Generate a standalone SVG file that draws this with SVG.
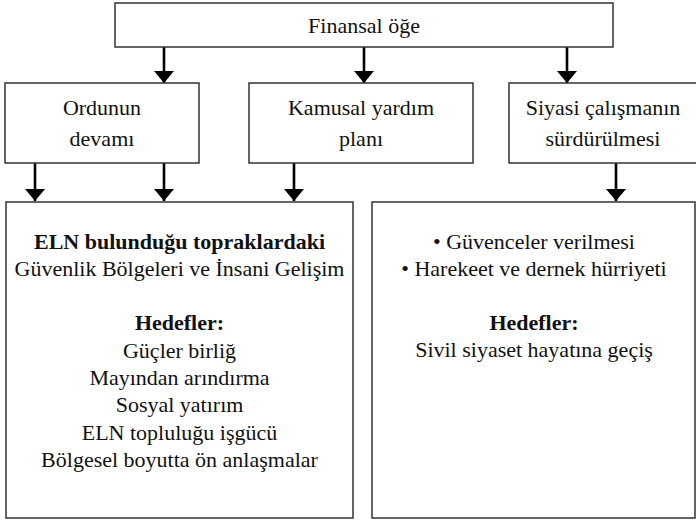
<svg xmlns="http://www.w3.org/2000/svg" width="696" height="520" viewBox="0 0 696 520">
<style>
.box{fill:#fff;stroke:#333;stroke-width:1.5}
.t{font-family:'Liberation Serif','Times New Roman','DejaVu Serif',serif;font-size:22px;fill:#111;text-anchor:middle}
.b{font-weight:bold}
.c{stroke:#000;stroke-width:2.6;fill:none}
</style>
<defs>
<marker id="ah" markerUnits="userSpaceOnUse" markerWidth="13" markerHeight="22" viewBox="0 0 13 22" refX="12" refY="11" orient="auto">
<path d="M0,1 L12,11 L0,21 z" fill="#000"/>
</marker>
</defs>
<rect width="696" height="520" fill="#fff"/>
<g id="connectors">
<line class="c" x1="164" y1="47" x2="164" y2="83" marker-end="url(#ah)"/>
<line class="c" x1="364" y1="47" x2="364" y2="83" marker-end="url(#ah)"/>
<line class="c" x1="567" y1="47" x2="567" y2="83" marker-end="url(#ah)"/>
<line class="c" x1="35" y1="163" x2="35" y2="201" marker-end="url(#ah)"/>
<line class="c" x1="164" y1="163" x2="164" y2="201" marker-end="url(#ah)"/>
<line class="c" x1="294" y1="163" x2="294" y2="201" marker-end="url(#ah)"/>
<line class="c" x1="616" y1="163" x2="616" y2="201" marker-end="url(#ah)"/>
</g>
<g id="finansal">
<rect class="box" x="115" y="3" width="498" height="44"/>
<text class="t" x="364" y="33">Finansal öğe</text>
</g>
<g id="ordunun">
<rect class="box" x="5" y="83" width="194" height="80"/>
<text class="t" x="102" y="115">Ordunun</text>
<text class="t" x="102" y="146">devamı</text>
</g>
<g id="kamusal">
<rect class="box" x="249" y="83" width="224" height="80"/>
<text class="t" x="361" y="115">Kamusal yardım</text>
<text class="t" x="361" y="146">planı</text>
</g>
<g id="siyasi">
<rect class="box" x="509" y="83" width="190" height="80"/>
<text class="t" x="603" y="115">Siyasi çalışmanın</text>
<text class="t" x="603" y="146">sürdürülmesi</text>
</g>
<g id="eln">
<rect class="box" x="6" y="202" width="347" height="316"/>
<text class="t b" x="179.5" y="249">ELN bulunduğu topraklardaki</text>
<text class="t" x="179.5" y="276">Güvenlik Bölgeleri ve İnsani Gelişim</text>
<text class="t b" x="179.5" y="330">Hedefler:</text>
<text class="t" x="179.5" y="358">Güçler birliğ</text>
<text class="t" x="179.5" y="385">Mayından arındırma</text>
<text class="t" x="179.5" y="412">Sosyal yatırım</text>
<text class="t" x="179.5" y="440">ELN topluluğu işgücü</text>
<text class="t" x="179.5" y="467">Bölgesel boyutta ön anlaşmalar</text>
</g>
<g id="sivil">
<rect class="box" x="372" y="202" width="323" height="316"/>
<text class="t" x="534" y="249">• Güvenceler verilmesi</text>
<text class="t" x="534" y="276">• Harekeet ve dernek hürriyeti</text>
<text class="t b" x="534" y="330">Hedefler:</text>
<text class="t" x="534" y="357">Sivil siyaset hayatına geçiş</text>
</g>
</svg>
